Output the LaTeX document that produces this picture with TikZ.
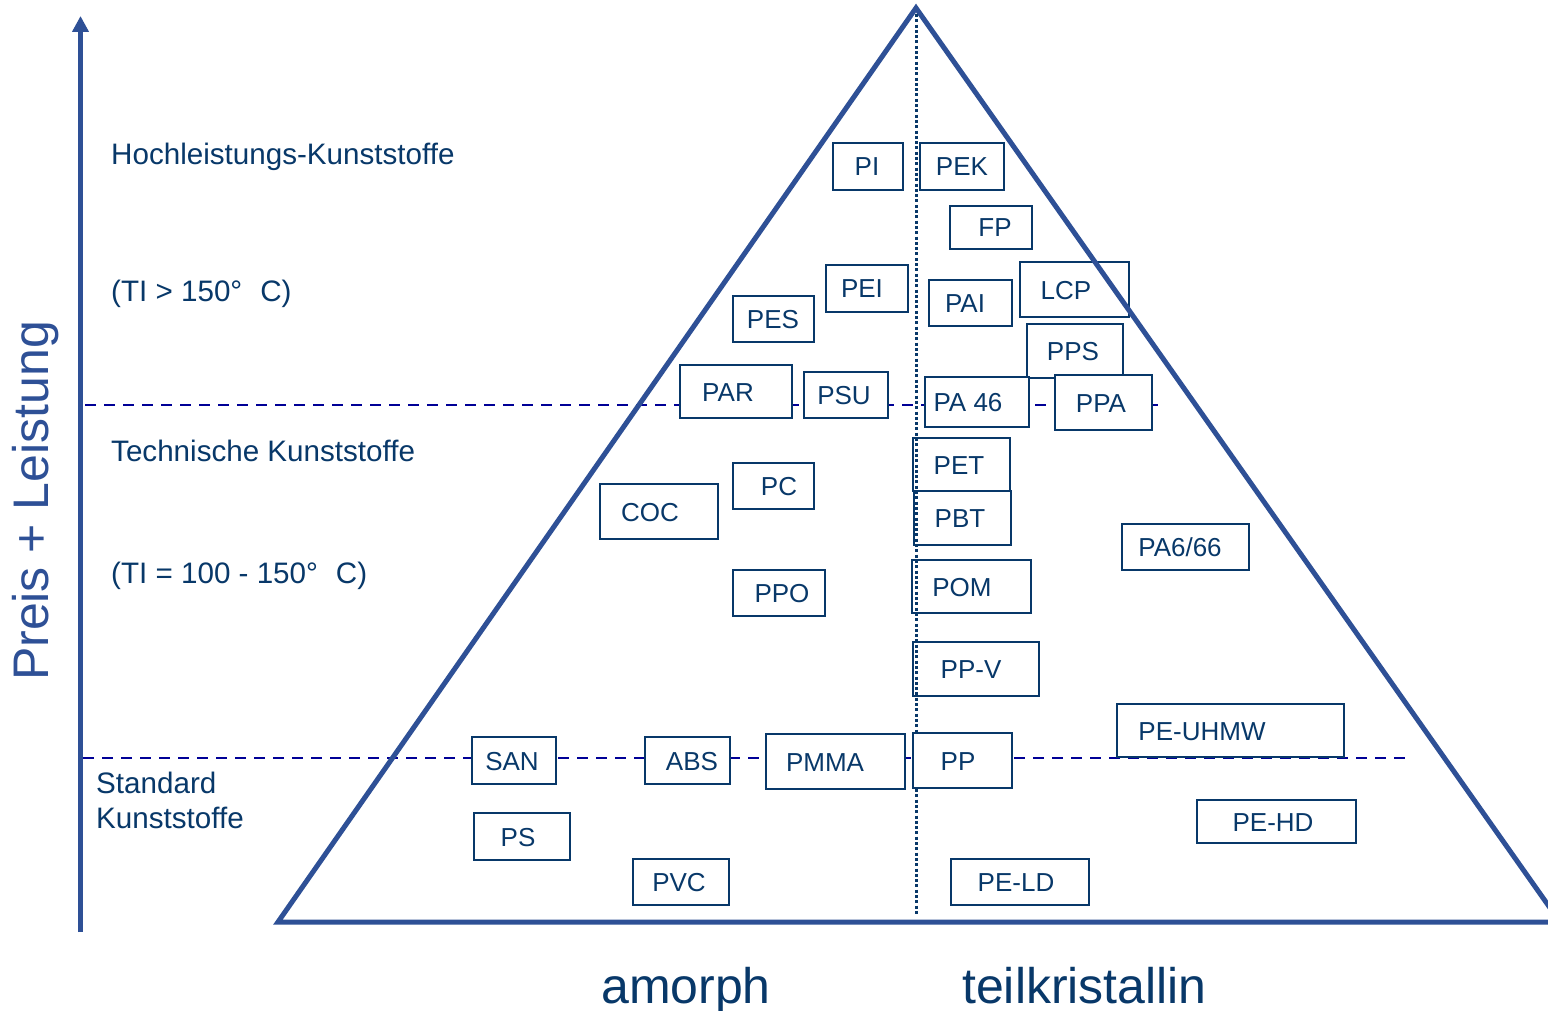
\documentclass[tikz,border=0pt]{standalone}
\usepackage{fontspec}
\setmainfont{Liberation Sans}
\usetikzlibrary{arrows.meta}
\definecolor{tri}{RGB}{46,80,150}
\definecolor{navy}{RGB}{8,56,105}
\definecolor{dashc}{RGB}{0,0,150}
\tikzset{
  pbox/.style={draw=navy,line width=2.8pt,fill=white,inner sep=0pt,rectangle},
  thinbox/.style={line width=1.5pt},
  ptext/.style={text=navy,font=\fontsize{26}{30}\selectfont,inner sep=0pt},
  lab/.style={text=navy,font=\fontsize{29.6}{34}\selectfont,inner sep=0pt,anchor=base west},
  big/.style={text=navy,font=\fontsize{50}{56}\selectfont,inner sep=0pt,anchor=base west},
  levelline/.style={draw=dashc,line width=2.6pt,dash pattern=on 11pt off 8pt},
  triline/.style={draw=tri,line width=5pt,line join=miter},
  dotline/.style={draw=navy,line width=3pt,dash pattern=on 3pt off 2.3pt}
}
\newcommand\pbox[8][]{%
  \pgfmathsetmacro\bw{#5-#3}%
  \pgfmathsetmacro\bh{#6-#4}%
  \node[pbox,#1,minimum width=\bw pt,minimum height=\bh pt] (#2) at ({(#3+#5)/2},{(#4+#6)/2}) {};
  \node[ptext,anchor=base] (#2-t) at (#7,{(#4+#6)/2+9.5}) {#8};
}
\begin{document}
\begin{tikzpicture}[x=1pt,y=-1pt]
\clip (0,0) rectangle (1548,1011);
\fill[white] (0,0) rectangle (1548,1011);
% level lines
\coordinate (h1a) at (85,405); \coordinate (h1b) at (1158,405);
\coordinate (h2a) at (83,758); \coordinate (h2b) at (1412,758);
\draw[levelline] (h1a) -- (h1b);
\draw[levelline] (h2a) -- (h2b);
% axis
\coordinate (ax0) at (80.5,932); \coordinate (ax1) at (80.5,16);
\draw[draw=tri,line width=5pt,-{Triangle[width=16pt,length=16pt]}] (ax0) -- (ax1);
\node[text=tri,font=\fontsize{50}{56}\selectfont,rotate=90,inner sep=0pt] (yl) at (36,501) {Preis + Leistung};
% boxes
\pbox{PI}{833}{143}{903}{190}{867}{PI}
\pbox{PEK}{920}{143}{1004}{190}{962}{PEK}
\pbox{FP}{950}{206}{1032}{249}{995}{FP}
\pbox{PEI}{826}{265}{908}{312}{862}{PEI}
\pbox{PES}{733}{296}{814}{342}{773}{PES}
\pbox{PAI}{929}{280}{1012}{326}{965}{PAI}
\pbox{LCP}{1020}{262}{1129}{317}{1066}{LCP}
\pbox{PPS}{1027}{324}{1123}{378}{1073}{PPS}
\pbox{PAR}{680}{365}{792}{418}{728}{PAR}
\pbox{PSU}{804}{372}{888}{418}{844}{PSU}
\pbox{PA46}{925}{377}{1029}{427}{968}{PA 46}
\pbox{PPA}{1055}{375}{1152}{430}{1101}{PPA}
\pbox{PET}{913}{438}{1010}{491}{959}{PET}
\pbox{PBT}{914}{491}{1011}{545}{960}{PBT}
\pbox{PC}{733}{463}{814}{509}{779}{PC}
\pbox{COC}{600}{484}{718}{539}{650}{COC}
\pbox{PA666}{1122}{524}{1249}{570}{1180}{PA6/66}
\pbox{POM}{912}{560}{1031}{613}{962}{POM}
\pbox{PPO}{733}{570}{825}{616}{782}{PPO}
\pbox{PPV}{913}{642}{1039}{696}{971}{PP-V}
\pbox[thinbox]{PEUHMW}{1117}{704}{1344}{757}{1202}{PE-UHMW}
\pbox{SAN}{472}{737}{556}{784}{512}{SAN}
\pbox{ABS}{645}{737}{730}{784}{692}{ABS}
\pbox{PMMA}{766}{734}{905}{789}{825}{PMMA}
\pbox{PP}{913}{733}{1012}{788}{958}{PP}
\pbox[thinbox]{PEHD}{1197}{800}{1356}{843}{1273}{PE-HD}
\pbox{PS}{474}{813}{570}{860}{518}{PS}
\pbox{PVC}{633}{859}{729}{905}{679}{PVC}
\pbox{PELD}{951}{859}{1089}{905}{1016}{PE-LD}
% triangle
\coordinate (apex) at (916,8);
\coordinate (bl) at (278,922);
\coordinate (br) at (1560,922);
\draw[triline] (apex) -- (bl) -- (br) -- cycle;
% dotted divider
\coordinate (d0) at (916,14); \coordinate (d1) at (916,733);
\coordinate (d2) at (916,789); \coordinate (d3) at (916,916);
\draw[dotline] (d0) -- (d1);
\draw[dotline] (d2) -- (d3);
% labels
\node[lab] (l1) at (111,164.5) {Hochleistungs-Kunststoffe};
\node[lab] (l2) at (111,301.5) {(TI > 150°\hspace{18pt}C)};
\node[lab] (l3) at (111,461.5) {Technische Kunststoffe};
\node[lab] (l4) at (111,583.5) {(TI = 100 - 150°\hspace{18pt}C)};
\node[lab] (l5) at (96,793.5) {Standard};
\node[lab] (l6) at (96,828.5) {Kunststoffe};
\node[big] (am) at (601,1003) {amorph};
\node[big] (tk) at (962,1003) {teilkristallin};
\end{tikzpicture}
\end{document}
